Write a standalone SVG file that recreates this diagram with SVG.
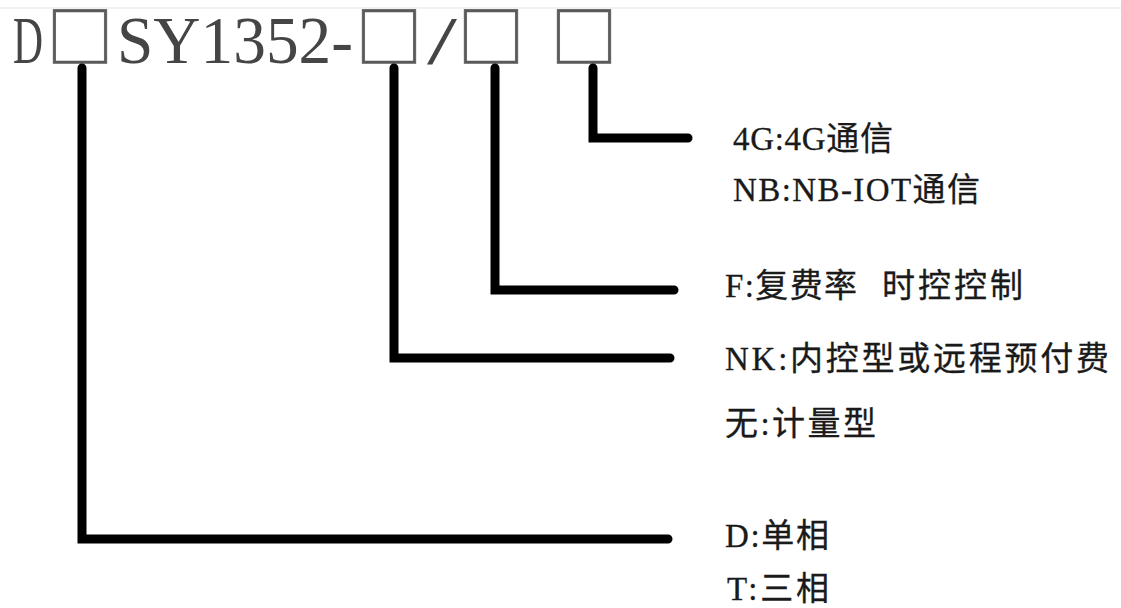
<svg xmlns="http://www.w3.org/2000/svg" width="1121" height="608" viewBox="0 0 1121 608">
<style>
.title{font-family:"Liberation Serif","Noto Sans CJK SC",serif;font-size:68px;fill:#454545}
.box{font-family:"Noto Sans CJK SC",sans-serif;font-size:67px;fill:#5a5a5a;stroke:#5a5a5a;stroke-width:0.7;text-anchor:middle}
.lbl{font-family:"Liberation Serif","Noto Sans CJK SC",sans-serif;font-size:33px;fill:#1a1a1a;stroke:#1a1a1a;stroke-width:0.3}
.wire{fill:none;stroke:#000;stroke-width:9;stroke-linecap:round;stroke-linejoin:miter}
</style>
<rect width="1121" height="608" fill="#fff"/>
<line x1="0" y1="8" x2="1121" y2="8" stroke="#ececec" stroke-width="1.5"/>
<g id="model">
<text class="title" x="13" y="63" textLength="30" lengthAdjust="spacingAndGlyphs">D</text>
<text class="box" x="80" y="62">□</text>
<text class="title" x="117" y="63" textLength="236" lengthAdjust="spacingAndGlyphs">SY1352-</text>
<text class="box" x="389" y="62">□</text>
<text class="title" x="427" y="63" textLength="30" lengthAdjust="spacingAndGlyphs">/</text>
<text class="box" x="491" y="62">□</text>
<text class="box" x="584" y="62">□</text>
</g>
<g id="connectors">
<path class="wire" d="M593 68 V138 H688"/>
<path class="wire" d="M495 68 V290 H674"/>
<path class="wire" d="M394 68 V358 H670"/>
<path class="wire" d="M82 68 V539 H668"/>
</g>
<g id="comm">
<text class="lbl" x="733" y="150" textLength="160">4G:4G通信</text>
<text class="lbl" x="733" y="201" textLength="247">NB:NB-IOT通信</text>
</g>
<g id="rate">
<text class="lbl" x="725" y="297"><tspan textLength="132">F:复费率</tspan><tspan x="882" textLength="141">时控控制</tspan></text>
</g>
<g id="control">
<text class="lbl" x="725" y="370" textLength="384">NK:内控型或远程预付费</text>
<text class="lbl" x="725" y="435" textLength="151">无:计量型</text>
</g>
<g id="phase">
<text class="lbl" x="725" y="547" textLength="104">D:单相</text>
<text class="lbl" x="727" y="600" textLength="102">T:三相</text>
</g>
</svg>
